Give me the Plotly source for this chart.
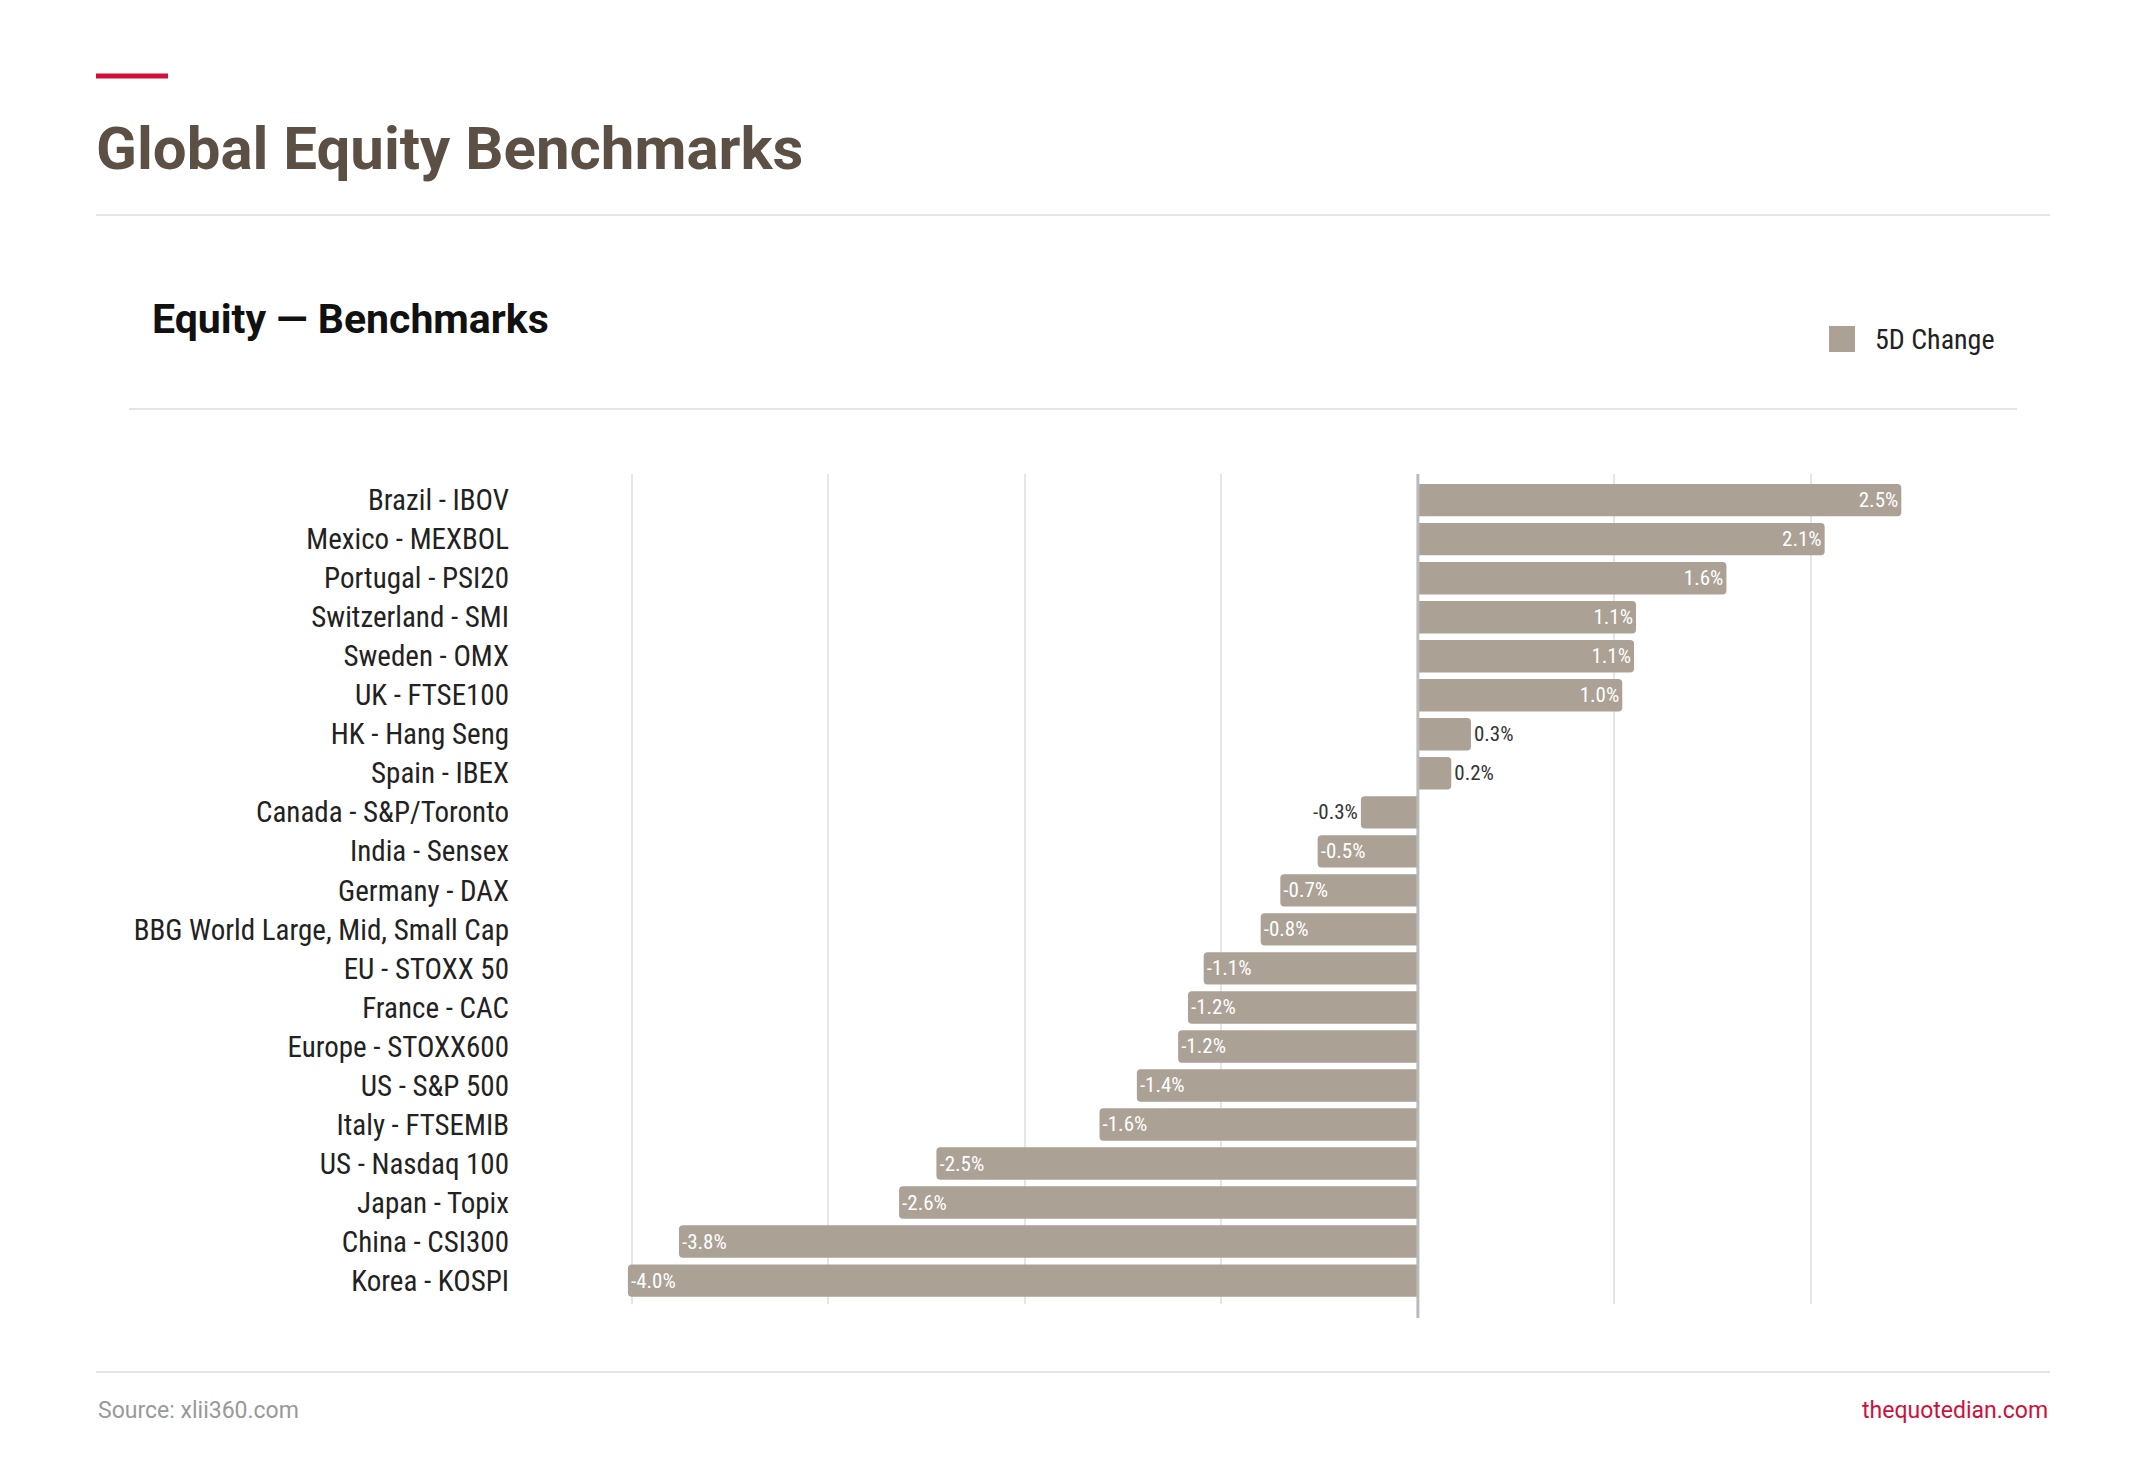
# Horizontal bar chart of 5 day change in global equity benchmarks
# - values typed in from the chart
# - plot area placed with margins, page furniture as shapes / annotations

import plotly.graph_objects as go

W, H = 2145, 1458
D = 8                                      # nudge everything up / left
L, R, T, B = 622 - D, 226 + D, 474 - D, 154 + D    # plot area margins in px

names = ["Brazil - IBOV", "Mexico - MEXBOL", "Portugal - PSI20", "Switzerland - SMI",
         "Sweden - OMX", "UK - FTSE100", "HK - Hang Seng", "Spain - IBEX",
         "Canada - S&P/Toronto", "India - Sensex", "Germany - DAX",
         "BBG World Large, Mid, Small Cap", "EU - STOXX 50", "France - CAC",
         "Europe - STOXX600", "US - S&P 500", "Italy - FTSEMIB", "US - Nasdaq 100",
         "Japan - Topix", "China - CSI300", "Korea - KOSPI"]
change = [2.46, 2.07, 1.57, 1.11, 1.10, 1.04, 0.27, 0.17, -0.29, -0.51, -0.70,
          -0.80, -1.09, -1.17, -1.22, -1.43, -1.62, -2.45, -2.64, -3.76, -4.02]

inside = [abs(v) >= 0.5 for v in change]
pos = ["inside" if i else "outside" for i in inside]
FONT = "Liberation Sans Narrow, Roboto Condensed, Roboto"
BAR = "#aba195"

def px(x):  # page px (reference) -> paper x
    return (x - D - L) / (W - L - R)

def py(y):  # page px (reference) -> paper y
    return (H - B - (y - D)) / (H - T - B)

fig = go.Figure(go.Bar(
    x=change, y=names, orientation="h", name="5D Change",
    marker_color=BAR, marker_line_width=0,
    text=[f"{v:.1f}%" for v in change], textposition=pos,
    insidetextanchor="end",
    outsidetextfont=dict(size=21, color="#333333", family=FONT),
    insidetextfont=dict(size=21, color="white", family=FONT),
    cliponaxis=False, showlegend=False,
))

fig.update_layout(
    width=W, height=H, plot_bgcolor="white", paper_bgcolor="white",
    margin=dict(l=L, r=R, t=T, b=B),
    font=dict(family=FONT, color="#333333"),
    bargap=0.17, barcornerradius=4,
)
fig.update_xaxes(range=[-4.05, 2.55], showticklabels=False, showgrid=True,
                 gridcolor="#e6e6e6", gridwidth=1.5, zeroline=False,
                 tickvals=[-4, -3, -2, -1, 1, 2])
fig.update_yaxes(range=[20.6, -0.67], tickfont=dict(size=29, color="#222222", family=FONT),
                 ticklabelstandoff=112, showgrid=False)

shapes = [
    dict(type="line", xref="paper", yref="paper", x0=px(96), x1=px(168), y0=py(76), y1=py(76),
         line=dict(color="#d0103a", width=5)),
    dict(type="line", xref="paper", yref="paper", x0=px(96), x1=px(2050), y0=py(215), y1=py(215),
         line=dict(color="#dddddd", width=1.5)),
    dict(type="line", xref="paper", yref="paper", x0=px(129), x1=px(2017), y0=py(409), y1=py(409),
         line=dict(color="#dddddd", width=1.5)),
    dict(type="line", xref="paper", yref="paper", x0=px(96), x1=px(2050), y0=py(1372), y1=py(1372),
         line=dict(color="#dddddd", width=1.5)),
    dict(type="line", xref="x", yref="paper", x0=0, x1=0, y0=py(1318), y1=py(474),
         line=dict(color="#bbbbbb", width=3)),
    # legend swatch
    dict(type="rect", xref="paper", yref="paper", x0=px(1829), x1=px(1855), y0=py(326), y1=py(352),
         fillcolor=BAR, line_width=0),
]
fig.update_layout(shapes=shapes)

fig.add_annotation(text="5D Change", xref="paper", yref="paper",
                   x=px(1873), y=py(339), xanchor="left", yanchor="middle", showarrow=False,
                   font=dict(size=28, color="#222222"))
fig.add_annotation(text="<b>Global Equity Benchmarks</b>", xref="paper", yref="paper",
                   x=px(94), y=py(148), xanchor="left", yanchor="middle", showarrow=False,
                   font=dict(size=60, color="#5c5045", family="Roboto"))
fig.add_annotation(text="<b>Equity — Benchmarks</b>", xref="paper", yref="paper",
                   x=px(150), y=py(319), xanchor="left", yanchor="middle", showarrow=False,
                   font=dict(size=41, color="#111111", family="Roboto"))
fig.add_annotation(text="Source: xlii360.com", xref="paper", yref="paper",
                   x=px(96), y=py(1410), xanchor="left", yanchor="middle", showarrow=False,
                   font=dict(size=23, color="#999999", family="Roboto"))
fig.add_annotation(text="thequotedian.com", xref="paper", yref="paper",
                   x=px(2050), y=py(1410), xanchor="right", yanchor="middle", showarrow=False,
                   font=dict(size=23, color="#d0103a", family="Roboto"))

fig.write_html("out.html")
